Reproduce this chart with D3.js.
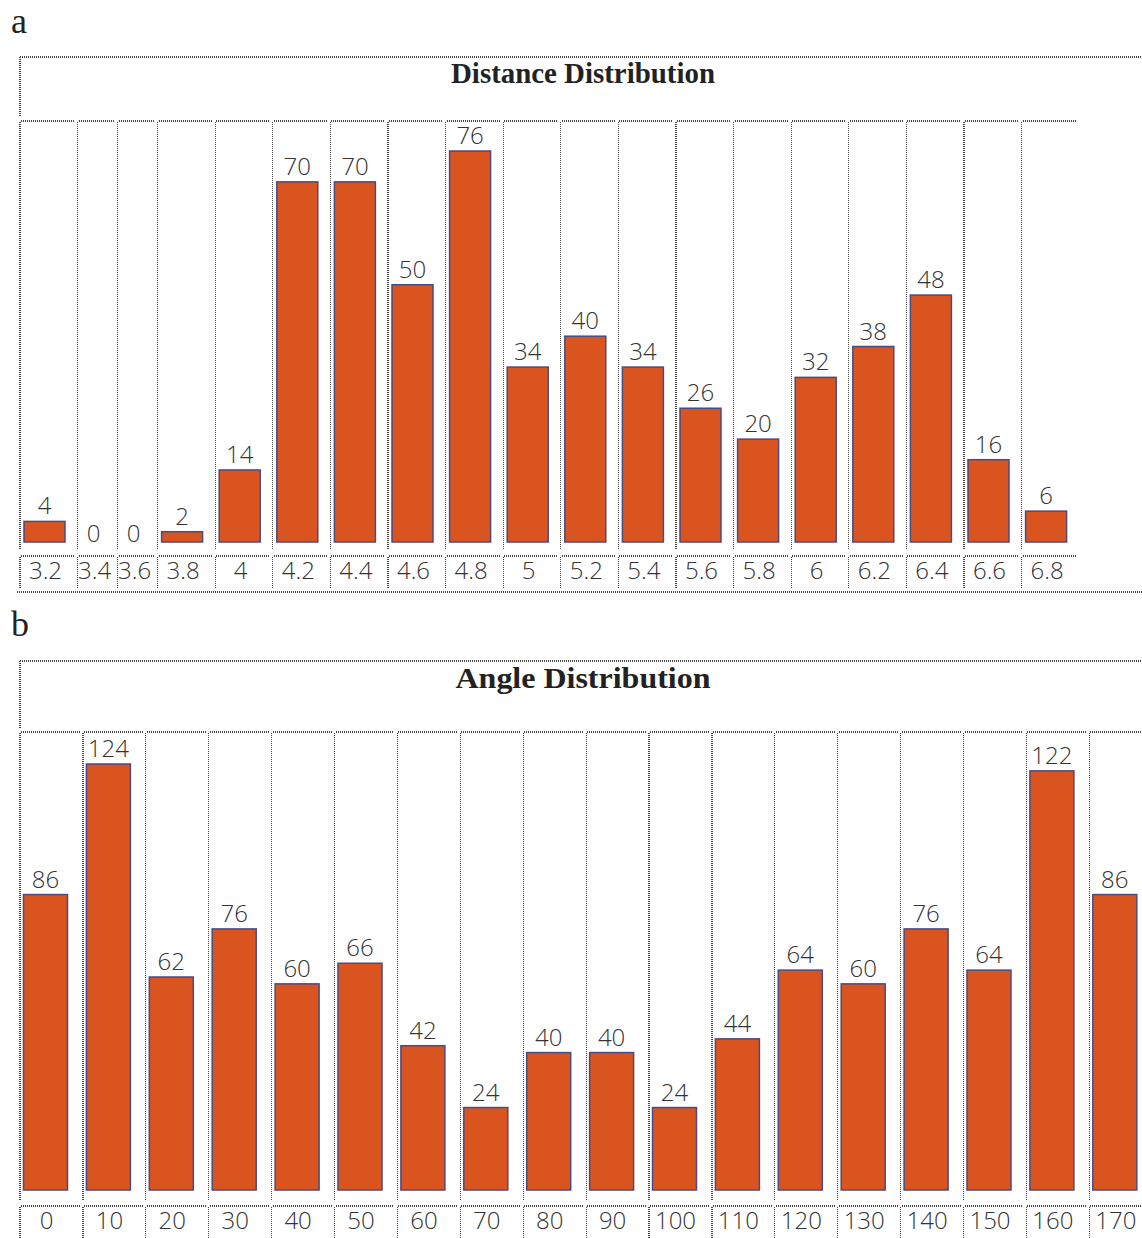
<!DOCTYPE html>
<html>
<head>
<meta charset="utf-8">
<script src="https://cdn.jsdelivr.net/npm/d3@7"></script>
<style>
  html, body { margin: 0; padding: 0; background: #fff; }
  svg { display: block; }
</style>
</head>
<body>
<div id="chart"></div>
<script>
// Data
var distCategories = ["3.2", "3.4", "3.6", "3.8", "4", "4.2", "4.4", "4.6", "4.8", "5",
  "5.2", "5.4", "5.6", "5.8", "6", "6.2", "6.4", "6.6", "6.8"];
var distValues = [4, 0, 0, 2, 14, 70, 70, 50, 76, 34, 40, 34, 26, 20, 32, 38, 48, 16, 6];

var angleCategories = ["0", "10", "20", "30", "40", "50", "60", "70", "80", "90",
  "100", "110", "120", "130", "140", "150", "160", "170"];
var angleValues = [86, 124, 62, 76, 60, 66, 42, 24, 40, 40, 24, 44, 64, 60, 76, 64, 122, 86];

var panelLetters = ["a", "b"];
var panelTitles = ["Distance Distribution", "Angle Distribution"];

// Page size
var svgWidth = 1142;
var svgHeight = 1238;

var barFill = "#d9541f";
var barStroke = "#4b4a82";
var dotColor = "#444";

var svg = d3.select("#chart")
  .append("svg")
  .attr("width", svgWidth)
  .attr("height", svgHeight);

// layout of each panel (table-like boxes)
var layouts = [
  {
    letterY: 33, boxTop: 57, titleY: 83, titleLen: 264,
    cellTop: 121, baseline: 542, cellBottom: 550,
    labelTop: 556, labelBottom: 588, labelY: 579, bottomLine: 592,
    left: 20, colW: 57.6, narrowW: 40, barOff: 4, barW: 41, barTopPx: 151
  },
  {
    letterY: 636, boxTop: 661, titleY: 688, titleLen: 255,
    cellTop: 732, baseline: 1190, cellBottom: 1200,
    labelTop: 1206, labelBottom: 1245, labelY: 1229, bottomLine: null,
    left: 20, colW: 62.9, narrowW: 62.9, barOff: 3.5, barW: 44, barTopPx: 764
  }
];

function dotted(g, x1, y1, x2, y2) {
  g.append("line")
    .attr("x1", x1).attr("y1", y1)
    .attr("x2", x2).attr("y2", y2)
    .attr("stroke", dotColor)
    .attr("stroke-width", 1.2)
    .attr("stroke-dasharray", "1,1")
    .attr("shape-rendering", "crispEdges");
}

function drawPanel(L, letter, title, cats, values) {
  var g = svg.append("g");

  // panel letter
  g.append("text")
    .attr("x", 11)
    .attr("y", L.letterY)
    .attr("font-family", "Liberation Serif, serif")
    .attr("font-size", 36)
    .attr("fill", "#222")
    .text(letter);

  // column widths: empty (zero) columns are narrow, like the source table
  var units = values.map(d => d > 0 ? 1 : L.narrowW / L.colW);
  var starts = [];
  var acc = 0;
  units.forEach(function(u) { starts.push(acc); acc += u; });
  var xScale = d3.scaleLinear()
    .domain([0, acc])
    .range([L.left, L.left + acc * L.colW]);

  var yScale = d3.scaleLinear()
    .domain([0, d3.max(values)])
    .range([L.baseline, L.barTopPx]);

  var rightEnd = xScale(acc);

  // title box
  dotted(g, L.left, L.boxTop, svgWidth, L.boxTop);
  dotted(g, L.left, L.boxTop, L.left, L.cellTop - 4);
  g.append("text")
    .attr("x", 583)
    .attr("y", L.titleY)
    .attr("text-anchor", "middle")
    .attr("font-family", "Liberation Serif, serif")
    .attr("font-weight", "bold")
    .attr("font-size", 29)
    .attr("textLength", L.titleLen)
    .attr("lengthAdjust", "spacingAndGlyphs")
    .attr("fill", "#222")
    .text(title);

  // cell borders (bar row and label row)
  cats.forEach(function(c, i) {
    var x0 = xScale(starts[i]);
    var x1 = i < cats.length - 1 ? xScale(starts[i + 1]) - 3 : Math.min(rightEnd - 2, svgWidth);
    dotted(g, x0 + 1, L.cellTop, x1, L.cellTop);
    dotted(g, x0, L.cellTop + 1, x0, L.cellBottom);
    dotted(g, x0 + 1, L.labelTop, x1, L.labelTop);
    dotted(g, x0, L.labelTop + 1, x0, L.labelBottom);
  });
  if (L.bottomLine) dotted(g, 17, L.bottomLine, svgWidth, L.bottomLine);

  function centerX(i) {
    var x0 = xScale(starts[i]);
    return values[i] > 0 ? x0 + L.barOff + L.barW / 2 : x0 + 16;
  }

  var rows = values.map((v, i) => ({ v: v, i: i }));

  // bars (zero values have no bar)
  g.selectAll("rect.bar")
    .data(rows.filter(d => d.v > 0))
    .enter()
    .append("rect")
    .attr("class", "bar")
    .attr("x", d => xScale(starts[d.i]) + L.barOff)
    .attr("y", d => yScale(d.v))
    .attr("width", L.barW)
    .attr("height", d => L.baseline - yScale(d.v))
    .attr("fill", barFill)
    .attr("stroke", barStroke)
    .attr("stroke-width", 1.5);

  // value labels
  g.selectAll("text.val")
    .data(rows)
    .enter()
    .append("text")
    .attr("class", "val")
    .attr("x", d => centerX(d.i))
    .attr("y", d => d.v > 0 ? yScale(d.v) - 7 : L.baseline)
    .attr("text-anchor", "middle")
    .attr("font-family", "Open Sans, Liberation Sans, sans-serif")
    .attr("font-weight", 300)
    .attr("font-size", 24)
    .attr("fill", "#333")
    .text(d => d.v);

  // category labels
  g.selectAll("text.cat")
    .data(cats)
    .enter()
    .append("text")
    .attr("class", "cat")
    .attr("x", (d, i) => centerX(i) + 1)
    .attr("y", L.labelY)
    .attr("text-anchor", "middle")
    .attr("font-family", "Open Sans, Liberation Sans, sans-serif")
    .attr("font-weight", 300)
    .attr("font-size", 24)
    .attr("fill", "#333")
    .text(d => d);
}

drawPanel(layouts[0], panelLetters[0], panelTitles[0], distCategories, distValues);
drawPanel(layouts[1], panelLetters[1], panelTitles[1], angleCategories, angleValues);
</script>
</body>
</html>
